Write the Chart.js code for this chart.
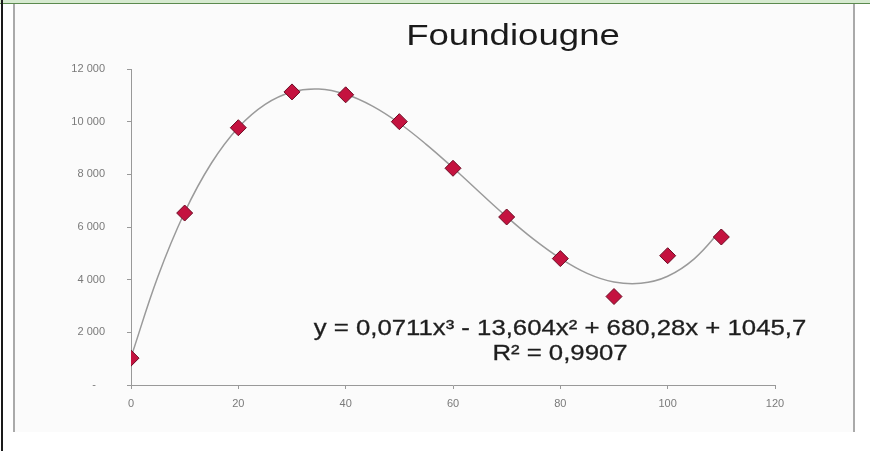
<!DOCTYPE html>
<html>
<head>
<meta charset="utf-8">
<script src="https://cdn.jsdelivr.net/npm/chart.js@4"></script>
<style>
    body { margin: 0; width: 870px; height: 451px; background: #fff; position: relative; overflow: hidden; font-family: "Liberation Sans", Arial, sans-serif; }
    #topbar { position: absolute; left: 0; top: 0; width: 870px; height: 3px; background: #d6ead0; border-bottom: 1px solid #5b8a4e; }
    #leftline { position: absolute; left: 1px; top: 0; width: 2px; height: 451px; background: #1a1a1a; }
    #panel { position: absolute; left: 13px; top: 4px; width: 838px; height: 428px; background: #fbfbfb; border-left: 2px solid #aaa; border-right: 2px solid #aaa; }
    #chart { position: absolute; left: 0; top: 0; }
    #title { position: absolute; left: 313px; top: 20px; width: 400px; text-align: center; font-size: 30px; line-height: 30px; color: #1a1a1a; transform: scaleX(1.22); }
    #equation { position: absolute; left: 310px; top: 315px; width: 500px; text-align: center; font-size: 22px; line-height: 25px; color: #1e1e1e; transform: scaleX(1.17); -webkit-text-stroke: 0.3px #1e1e1e; }
</style>
</head>
<body>
<div id="topbar"></div>
<div id="leftline"></div>
<div id="panel"></div>
<canvas id="chart" width="870" height="451"></canvas>
<div id="title">Foundiougne</div>
<div id="equation">y = 0,0711x³ - 13,604x² + 680,28x + 1045,7<br>R² = 0,9907</div>
<script>
// measured points (x, population)
const xValues = [0, 10, 20, 30, 40, 50, 60, 70, 80, 90, 100, 110];
const yValues = [1020, 6530, 9770, 11130, 11020, 10000, 8230, 6380, 4800, 3360, 4910, 5620];

// trend curve
const trendX = [0, 5, 10, 15, 20, 25, 30, 35, 40, 45, 50, 55, 60, 65, 70, 75, 80, 85, 90, 95, 100, 105, 110];
const trendY = [1050, 4110, 6560, 8430, 9780, 10660, 11130, 11240, 11040, 10590, 9940, 9140, 8250, 7310, 6390, 5540, 4810, 4240, 3910, 3860, 4130, 4800, 5900];

const yTicks = [0, 2000, 4000, 6000, 8000, 10000, 12000];
const xTicks = [0, 20, 40, 60, 80, 100, 120];

const axisColor = '#999';
const labelColor = '#7a7a7a';

function fmtThousands(v) {
    if (v === 0) return '-   ';
    return String(v).replace(/\B(?=(\d{3})+(?!\d))/g, ' ');
}

const ctx = document.getElementById('chart').getContext('2d');
new Chart(ctx, {
    type: 'scatter',
    data: {
        datasets: [
            {
                label: 'points',
                data: xValues.map((x, i) => ({ x, y: yValues[i] })),
                showLine: false,
                pointStyle: 'rectRot',
                pointRadius: 8,
                backgroundColor: '#c4123f',
                borderColor: '#6b0a22',
                borderWidth: 1,
                order: 1
            },
            {
                label: 'trend',
                data: trendX.map((x, i) => ({ x, y: trendY[i] })),
                showLine: true,
                pointRadius: 0,
                borderColor: '#9a9a9a',
                borderWidth: 1.5,
                tension: 0.4,
                order: 2
            }
        ]
    },
    options: {
        responsive: false,
        animation: false,
        layout: { padding: { left: 0, top: 69, right: 95, bottom: 36 } },
        plugins: { legend: { display: false }, tooltip: { enabled: false }, title: { display: false } },
        scales: {
            x: {
                type: 'linear',
                min: 0,
                max: 120,
                afterBuildTicks: s => { s.ticks = xTicks.map(v => ({ value: v })); },
                afterFit: s => { s.height = 30; },
                grid: { drawOnChartArea: false, tickLength: 4, color: axisColor },
                border: { color: axisColor, width: 1 },
                ticks: { color: labelColor, font: { family: 'Liberation Sans, Arial', size: 11 }, padding: 8, maxRotation: 0 }
            },
            y: {
                min: 0,
                max: 12000,
                afterBuildTicks: s => { s.ticks = yTicks.map(v => ({ value: v })); },
                afterFit: s => { s.width = 131; },
                grid: { drawOnChartArea: false, tickLength: 4, color: axisColor },
                border: { color: axisColor, width: 1 },
                ticks: { color: labelColor, font: { family: 'Liberation Sans, Arial', size: 11 }, padding: 22, callback: v => fmtThousands(v) }
            }
        }
    }
});
</script>
</body>
</html>
